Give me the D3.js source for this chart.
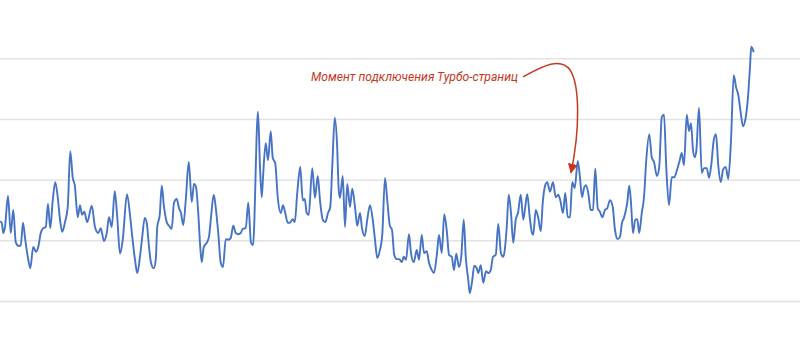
<!DOCTYPE html>
<html>
<head>
<meta charset="utf-8">
<script src="https://cdn.jsdelivr.net/npm/d3@7"></script>
<style>
  body { margin: 0; background: #fff; }
  svg { display: block; }
</style>
</head>
<body>
<svg></svg>
<script>
// Days (x) and daily values (y)
var days = [
  0,0.7,1.3,2,3.2,4.3,5.3,6.3,7.3,8.3,
  9.2,10.1,11.1,12.1,13.3,14.4,15.3,16.3,17.3,18.3,
  19.2,20.1,21.1,22.1,23.1,24,24.9,26,27.1,28.1,
  29.1,29.9,31.1,32,32.8,33.7,34.9,36.7,38,39.3,
  40.3,41.6,42.7,43.6,44.7,45.9,46.9,48,49.1,50.8,
  52,52.9,54,54.9,56,56.9,57.9,58.7,59.6,60.4,
  61.5,62.3,62.9,63.9,64.7,65.6,66.7,67.6,68.7,69.6,
  70.7,71.6,72.4,73.3,74.3,75.5,76.7,77.6,78.4,79.3,
  80.1,80.7,81.5,82.7,83.6,84.4,85.5,86.4,87.3,88.3,
  89.2,90.3,91.3,92.3,93.3,94.3,95.3,96.3,97.1,98.3,
  99.3,100.4,101.2,103.2,104,104.7,105.3,106.3,107.2,108.3,
  109.1,110.1,111.1,112.3,113.2,114.1,115.1,116,117.1,117.9,
  118.9,120.1,121.1,121.9,122.7,123.5,124.9,126,127.1,128,
  129.1,130.1,131.2,132.1,132.9,133.9,134.8,135.5,136,137.1,
  138,138.9,140,140.9,142,142.9,144,144.8,145.9,146.9,
  148,149.1,150,150.9,151.8,152.9,154,154.9,155.9,156.8,
  157.7,158.7,159.7,160.7,161.5,162.4,163.6,164.4,165.5,166.7,
  167.6,168.7,169.6,170.7,171.6,172.7,173.6,174.8,175.6,176.7,
  177.7,178.8,179.6,180.7,181.6,182.5,183.6,184.5,185.5,186.3,
  187.3,187.9,188.8,189.7,190.7,191.3,192.3,193.3,194.4,195.3,
  196.3,197.2,198.3,199.3,200.4,201.3,201.9,202.7,203.5,204.4,
  205.3,206.3,207.2,208.3,209.3,210.1,210.9,211.9,212.8,213.3,
  214.3,215.3,216.3,217.1,218.1,218.9,220,221.2,222.3,223.3,
  224.1,225.2,226.1,227.1,228,228.9,229.9,231.1,232,232.8,
  233.6,234.4,235.3,236.3,237.2,238.1,239.1,240,240.9,242,
  242.9,244,245.1,246,247.1,248,248.8,249.6,250.9,251.7,
  252.4,253.2,254.1,254.9,255.7,256.7,257.6,258.5,259.7,260.7,
  261.6,262.8,263.7,264.7,265.6,266.5,267.6,268.7,269.7,270.8,
  271.9,272.7,273.6,274.7,275.6,276.4,277.2,277.9,278.5,279.6,
  280.7,281.6,282.7,283.6,284.5,285.5,286.4,287.3,288.3,289.2,
  290.3,291.3,292.4,293.5,294.5,295.3,296.3,297.2,298.1,299.1,
  300,300.5,301.5
];

var visits = [
  131,129,112,122,173,112,150,97,91,91,
  129,101,73,54,89,81,89,112,120,122,
  160,120,166,196,171,134,114,130,155,247,
  203,191,138,158,142,147,130,157,122,112,
  120,99,112,138,122,181,138,78,101,176,
  142,106,68,46,73,106,137,129,89,63,
  54,68,122,142,190,155,130,124,119,162,
  168,153,145,125,166,229,163,193,188,145,
  89,64,89,96,106,138,175,150,112,63,
  56,102,101,104,124,112,110,112,119,120,
  162,96,92,312,221,171,211,260,232,280,
  236,227,171,145,158,145,129,129,135,130,
  178,221,166,168,145,142,219,170,206,166,
  134,130,145,155,221,302,260,183,170,206,
  122,193,155,185,155,124,145,120,107,134,
  158,134,101,71,81,109,203,166,125,117,
  76,69,69,64,73,68,110,79,64,84,
  68,109,79,82,63,51,46,79,109,79,
  143,112,76,73,51,78,56,73,134,73,
  35,13,31,58,54,46,59,30,49,46,
  51,73,76,127,78,73,84,122,175,145,
  96,134,145,175,134,155,176,138,112,109,
  150,137,115,162,191,196,180,196,171,175,
  166,145,178,138,138,196,186,231,203,171,
  186,191,178,150,150,218,153,147,138,150,
  153,166,155,117,102,106,129,137,162,190,
  162,112,134,135,112,145,171,232,275,237,
  229,206,221,303,307,221,158,204,204,216,
  232,244,224,307,280,293,249,237,246,318,
  211,219,219,203,224,265,275,224,196,216,
  221,201,265,372,351,340,310,288,298,331,
  386,419,410
];

var gridTicks = [0, 100, 200, 300, 400];

var annotationText = "Момент подключения Турбо-страниц";
var annotationDay = 228, annotationValue = 208;

var width = 800, height = 359;

var svg = d3.select("svg")
    .attr("width", width)
    .attr("height", height);

var xScale = d3.scaleLinear()
    .domain([0, 320])
    .range([0, width]);

var yScale = d3.scaleLinear()
    .domain([0, 400])
    .range([301, 58.3]);

// horizontal gridlines, no labels
var grid = svg.append("g")
    .call(d3.axisRight(yScale).tickValues(gridTicks).tickSize(width).tickFormat(""));
grid.select(".domain").remove();
grid.selectAll(".tick line")
    .attr("stroke", "#e3e3e3")
    .attr("stroke-width", 1.5);

var data = days.map(function(d, i) {
   return {day: d, value: visits[i]};
});

var line = d3.line()
    .x(function(d) { return xScale(d.day); })
    .y(function(d) { return yScale(d.value); })
    .curve(d3.curveMonotoneX);

svg.append("path")
    .datum(data)
    .attr("fill", "none")
    .attr("stroke", "#4673c4")
    .attr("stroke-width", 1.9)
    .attr("stroke-linejoin", "round")
    .attr("d", line);

// annotation with curved arrow
var red = "#c4391d";
svg.append("defs").append("marker")
    .attr("id", "arrow")
    .attr("viewBox", "0 0 10 10")
    .attr("refX", 9)
    .attr("refY", 5)
    .attr("markerUnits", "userSpaceOnUse")
    .attr("markerWidth", 10)
    .attr("markerHeight", 10)
    .attr("orient", "auto")
    .append("path")
    .attr("d", "M0,0 L10,5 L0,10 z")
    .attr("fill", red);

var tx = xScale(annotationDay), ty = yScale(annotationValue);

svg.append("path")
    .attr("fill", "none")
    .attr("stroke", red)
    .attr("stroke-width", 1.5)
    .attr("marker-end", "url(#arrow)")
    .attr("d", "M" + (tx - 47) + "," + (ty - 98) +
               " C" + (tx - 30) + "," + (ty - 107) + " " + (tx - 10) + "," + (ty - 119) + " " + tx + "," + (ty - 105) +
               " C" + (tx + 10) + "," + (ty - 90) + " " + (tx + 10) + "," + (ty - 45) + " " + (tx + 1) + "," + (ty - 2));

svg.append("text")
    .attr("x", tx - 52)
    .attr("y", ty - 94)
    .attr("text-anchor", "end")
    .attr("textLength", 207)
    .attr("lengthAdjust", "spacingAndGlyphs")
    .attr("fill", red)
    .style("font-family", "Roboto, sans-serif")
    .style("font-style", "italic")
    .style("font-size", "13.5px")
    .text(annotationText);
</script>
</body>
</html>
